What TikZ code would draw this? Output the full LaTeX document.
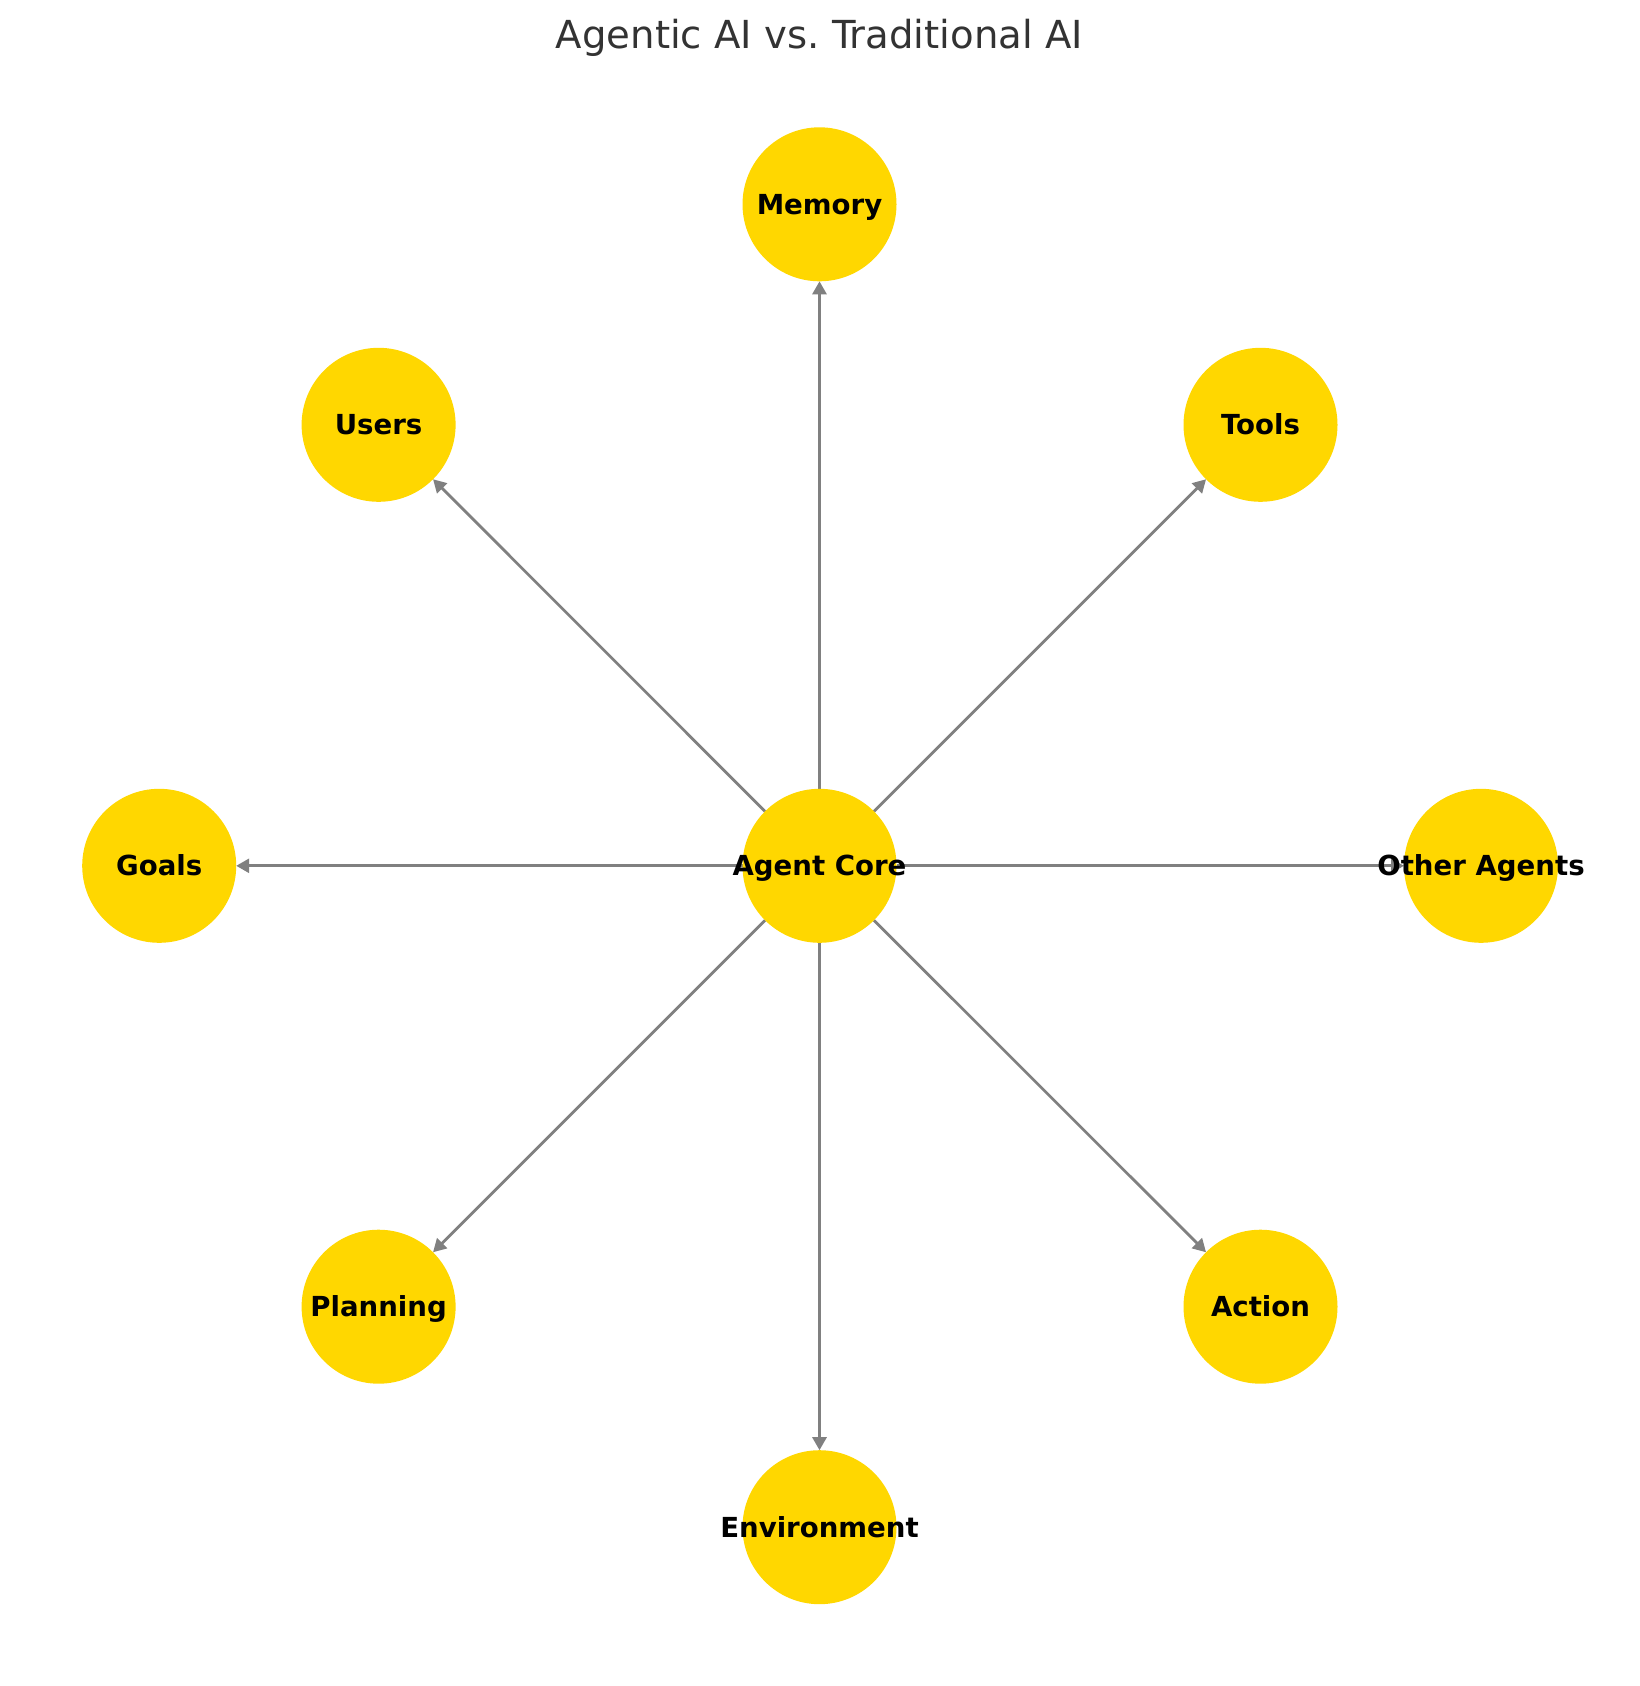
\documentclass[tikz,border=0pt]{standalone}
\usepackage{fontspec}
\setmainfont{DejaVu Sans}
\usetikzlibrary{arrows.meta,backgrounds}

\definecolor{gold}{HTML}{FFD700}
\definecolor{edgegrey}{HTML}{808080}
\definecolor{titlegrey}{HTML}{333333}

\tikzstyle{concept} = [circle, fill=gold, minimum size=154pt, inner sep=0pt, outer sep=0pt]
\tikzstyle{conceptname} = [font=\fontsize{27.6}{33}\selectfont\bfseries, text=black,
    text height=20pt, text depth=0pt, inner sep=0pt]
\tikzstyle{line} = [draw, line width=2.8pt, color=edgegrey, -{Triangle[length=13pt,width=14pt]}]

\begin{document}
\begin{tikzpicture}[x=1pt, y=-1pt]
	\useasboundingbox (0,0) rectangle (1639,1686);
	% Title
	\node [font=\fontsize{38.6}{46}\selectfont, text=titlegrey] (title) at (819.5,37.6) {Agentic AI vs.\ Traditional AI};

	% Nodes
	\node [concept, label={[conceptname]center:Agent Core}] (AgentCore) at (819.5,865.8) {};
	\node [concept, label={[conceptname]center:Memory}] (Memory) at (819.5,204.3) {};
	\node [concept, label={[conceptname]center:Users}] (Users) at (378.6,424.8) {};
	\node [concept, label={[conceptname]center:Tools}] (Tools) at (1260.5,424.8) {};
	\node [concept, label={[conceptname]center:Goals}] (Goals) at (159.2,865.8) {};
	\node [concept, label={[conceptname]center:Other Agents}] (OtherAgents) at (1481,865.8) {};
	\node [concept, label={[conceptname]center:Planning}] (Planning) at (378.6,1306.7) {};
	\node [concept, label={[conceptname]center:Action}] (Action) at (1260.5,1306.7) {};
	\node [concept, label={[conceptname]center:Environment}] (Environment) at (819.5,1527.2) {};

	% Arrows
	\begin{pgfonlayer}{background}
	\path [line] (AgentCore) -- (Memory);
	\path [line] (AgentCore) -- (Users);
	\path [line] (AgentCore) -- (Tools);
	\path [line] (AgentCore) -- (Goals);
	\path [line] (AgentCore) -- (OtherAgents);
	\path [line] (AgentCore) -- (Planning);
	\path [line] (AgentCore) -- (Action);
	\path [line] (AgentCore) -- (Environment);
	\end{pgfonlayer}

\end{tikzpicture}
\end{document}
